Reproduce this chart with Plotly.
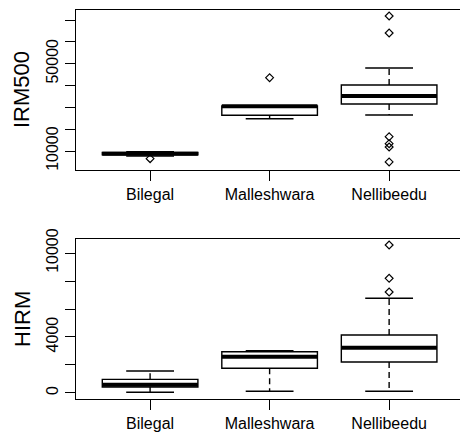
import plotly.graph_objects as go

categories = ["Bilegal", "Malleshwara", "Nellibeedu"]
positions = [1, 2, 3]

# IRM500 box statistics
irm_lower = [7700, 24800, 26500]
irm_q1 = [8200, 26350, 31530]
irm_median = [8700, 30450, 35200]
irm_q3 = [9300, 30620, 40230]
irm_upper = [9700, 30620, 48000]
irm_out_x = ["Bilegal", "Malleshwara", "Nellibeedu", "Nellibeedu", "Nellibeedu",
             "Nellibeedu", "Nellibeedu", "Nellibeedu"]
irm_out_y = [6500, 43580, 71840, 64050, 16550, 13340, 11830, 5000]
irm_ticks = [10000, 20000, 30000, 40000, 50000, 60000, 70000]
irm_ticktext = ["10000", "", "", "", "50000", "", ""]

# HIRM box statistics
hirm_lower = [50, 121, 121]
hirm_q1 = [430, 1764, 2214]
hirm_median = [595, 2593, 3236]
hirm_q3 = [976, 2950, 4143]
hirm_upper = [1571, 3020, 6764]
hirm_out_x = ["Nellibeedu", "Nellibeedu", "Nellibeedu"]
hirm_out_y = [10571, 8190, 7214]
hirm_ticks = [0, 2000, 4000, 6000, 8000, 10000]
hirm_ticktext = ["0", "", "4000", "", "", "10000"]

BOXW = 0.8
STAPLE = 0.2
LW = 1.4
pos_of = dict(zip(categories, positions))

fig = go.Figure()


def add_panel(xa, ya, lower, q1, med, q3, upper, out_x, out_y):
    fig.add_trace(go.Box(
        x=positions, q1=q1, median=med, q3=q3, lowerfence=q1, upperfence=q3,
        width=BOXW, line=dict(color="black", width=LW), fillcolor="rgba(0,0,0,0)",
        whiskerwidth=0, boxpoints=False, xaxis=xa, yaxis=ya, hoverinfo="skip",
        showlegend=False))
    mx, my, wx, wy, sx, sy = [], [], [], [], [], []
    for p, lo, a, m, b, hi in zip(positions, lower, q1, med, q3, upper):
        mx += [p - BOXW / 2, p + BOXW / 2, None]
        my += [m, m, None]
        wx += [p, p, None, p, p, None]
        wy += [b, hi, None, a, lo, None]
        sx += [p - STAPLE, p + STAPLE, None, p - STAPLE, p + STAPLE, None]
        sy += [hi, hi, None, lo, lo, None]
    fig.add_trace(go.Scatter(x=wx, y=wy, mode="lines", xaxis=xa, yaxis=ya,
                             line=dict(color="black", width=LW, dash="6px,4px"),
                             hoverinfo="skip", showlegend=False))
    fig.add_trace(go.Scatter(x=sx, y=sy, mode="lines", xaxis=xa, yaxis=ya,
                             line=dict(color="black", width=LW),
                             hoverinfo="skip", showlegend=False))
    fig.add_trace(go.Scatter(x=mx, y=my, mode="lines", xaxis=xa, yaxis=ya,
                             line=dict(color="black", width=4),
                             hoverinfo="skip", showlegend=False))
    fig.add_trace(go.Scatter(x=[pos_of[c] for c in out_x], y=out_y, mode="markers",
                             xaxis=xa, yaxis=ya,
                             marker=dict(symbol="diamond-open", size=6, color="black",
                                         line=dict(width=1.2, color="black")),
                             hoverinfo="skip", showlegend=False))


add_panel("x", "y", irm_lower, irm_q1, irm_median, irm_q3, irm_upper, irm_out_x, irm_out_y)
add_panel("x2", "y2", hirm_lower, hirm_q1, hirm_median, hirm_q3, hirm_upper, hirm_out_x, hirm_out_y)

font = "Liberation Sans, Arial, sans-serif"
xcommon = dict(range=[0.38, 3.593], tickvals=positions, ticktext=categories,
               showline=True, mirror=True, linecolor="black", linewidth=LW,
               ticks="outside", ticklen=10, tickwidth=LW, tickcolor="black",
               showgrid=False, zeroline=False,
               tickfont=dict(family=font, size=16, color="black"))
ycommon = dict(showline=True, mirror=False, linecolor="black", linewidth=LW,
               ticks="outside", ticklen=10, tickwidth=LW, tickcolor="black",
               showgrid=False, zeroline=False, tickangle=-90,
               tickfont=dict(family=font, size=16, color="black"))

fig.update_layout(
    width=460, height=436,
    margin=dict(l=76, r=0, t=10, b=37),
    paper_bgcolor="white", plot_bgcolor="white",
    boxmode="overlay",
    xaxis=dict(domain=[0, 1], anchor="y", **xcommon),
    yaxis=dict(domain=[0.5887, 1], anchor="x", range=[1296, 74590],
               tickvals=irm_ticks, ticktext=irm_ticktext, **ycommon),
    xaxis2=dict(domain=[0, 1], anchor="y2", **xcommon),
    yaxis2=dict(domain=[0, 0.4113], anchor="x2", range=[-429, 11000],
                tickvals=hirm_ticks, ticktext=hirm_ticktext, **ycommon),
    annotations=[
        dict(text="IRM500", xref="paper", x=0, xshift=-54, xanchor="center",
             yref="y domain", y=0.5, yanchor="middle", textangle=-90,
             showarrow=False, font=dict(family=font, size=22, color="black")),
        dict(text="HIRM", xref="paper", x=0, xshift=-54, xanchor="center",
             yref="y2 domain", y=0.5, yanchor="middle", textangle=-90,
             showarrow=False, font=dict(family=font, size=22, color="black")),
    ],
)

fig.write_html("out.html", config={"displayModeBar": False},
               post_script="document.body.style.margin='0';document.body.style.overflow='hidden';")
